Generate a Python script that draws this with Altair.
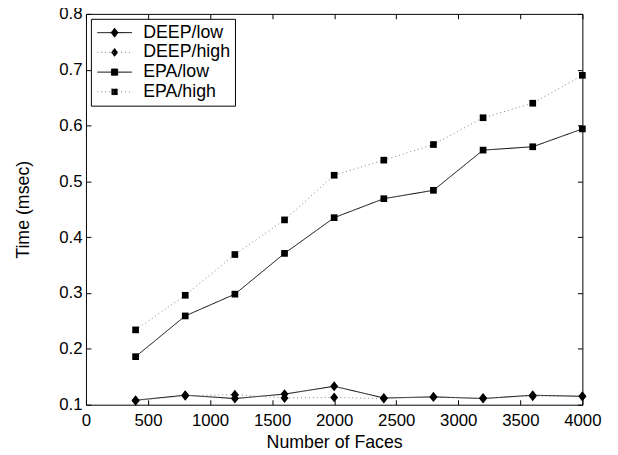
import altair as alt
import pandas as pd

faces = [400, 800, 1200, 1600, 2000, 2400, 2800, 3200, 3600, 4000]
deep_low = [0.108, 0.117, 0.111, 0.119, 0.133, 0.112, 0.114, 0.111, 0.117, 0.115]
deep_high = [0.107, 0.116, 0.118, 0.112, 0.113, 0.111, 0.114, 0.112, 0.115, 0.115]
epa_low = [0.186, 0.259, 0.298, 0.371, 0.435, 0.469, 0.484, 0.556, 0.562, 0.594]
epa_high = [0.234, 0.296, 0.369, 0.431, 0.511, 0.538, 0.566, 0.614, 0.640, 0.690]

series_names = ["DEEP/low", "DEEP/high", "EPA/low", "EPA/high"]
series_values = [deep_low, deep_high, epa_low, epa_high]
x_ticks = [0, 500, 1000, 1500, 2000, 2500, 3000, 3500, 4000]
y_ticks = [0.1, 0.2, 0.3, 0.4, 0.5, 0.6, 0.7, 0.8]

rows = []
for name, vals in zip(series_names, series_values):
    for f, v in zip(faces, vals):
        rows.append({"faces": f, "time": v, "series": name})
df = pd.DataFrame(rows)

FONT = "Liberation Sans"
W, H = 503, 396

xs = alt.Scale(domain=[0, 4000], nice=False, zero=False)
ys = alt.Scale(domain=[0.1, 0.8], nice=False, zero=False)

stroke_range = ["black", "#808080", "black", "#808080"]
dash_range = [[1, 0], [1, 3], [1, 0], [1, 3]]
diamond = "M0,-1L0.8,0L0,1L-0.8,0Z"
marker_range = [diamond, diamond, "square", "square"]
legend_paths = [
    "M-1,0H1M0,-0.26L0.2,0L0,0.26L-0.2,0Z",
    "M-1,0H1M0,-0.26L0.2,0L0,0.26L-0.2,0Z",
    "M-1,0H1M-0.18,-0.18H0.18V0.18H-0.18Z",
    "M-1,0H1M-0.18,-0.18H0.18V0.18H-0.18Z",
]

legend_kw = dict(
    title=None, orient="top-left", offset=5, strokeColor="black", fillColor="white",
    padding=4, labelFont=FONT, labelFontSize=18, labelColor="black",
    symbolSize=1225, symbolStrokeWidth=1, symbolFillColor="black",
    symbolOffset=2, labelOffset=11, rowPadding=0, clipHeight=20,
)

base = alt.Chart(df)

lines = base.mark_line(strokeWidth=1).encode(
    x=alt.X("faces:Q", scale=xs,
            axis=alt.Axis(orient="bottom", values=x_ticks, title="Number of Faces",
                          offset=-5, tickSize=5, domain=False, labelPadding=8,
                          labelFlush=False, labelOverlap=False,
                          titlePadding=5, format="d")),
    y=alt.Y("time:Q", scale=ys,
            axis=alt.Axis(orient="left", values=y_ticks, title="Time (msec)",
                          offset=-5, tickSize=5, domain=False, labelPadding=4,
                          labelFlush=False, labelOverlap=False,
                          titlePadding=27, format=".1f")),
    stroke=alt.Stroke("series:N", scale=alt.Scale(domain=series_names, range=stroke_range), legend=None),
    strokeDash=alt.StrokeDash("series:N", scale=alt.Scale(domain=series_names, range=dash_range), legend=None),
)

points = base.mark_point(filled=True, color="black", opacity=1).encode(
    x=alt.X("faces:Q", scale=xs, axis=None),
    y=alt.Y("time:Q", scale=ys, axis=None),
    shape=alt.Shape("series:N", scale=alt.Scale(domain=series_names, range=marker_range), legend=None),
    size=alt.condition("indexof(datum.series, 'DEEP') >= 0", alt.value(100), alt.value(46)),
)

legend_layer = base.transform_filter("false").mark_point(filled=True, fill="black", opacity=1).encode(
    x=alt.X("faces:Q", scale=xs,
            axis=alt.Axis(orient="top", values=x_ticks, labels=False, title=None,
                          offset=-5, tickSize=5, domain=False)),
    y=alt.Y("time:Q", scale=ys,
            axis=alt.Axis(orient="right", values=y_ticks, labels=False, title=None,
                          offset=-5, tickSize=5, domain=False)),
    shape=alt.Shape("series:N", scale=alt.Scale(domain=series_names, range=legend_paths),
                    legend=alt.Legend(**legend_kw)),
    stroke=alt.Stroke("series:N", scale=alt.Scale(domain=series_names, range=stroke_range),
                      legend=alt.Legend(**legend_kw)),
    strokeDash=alt.StrokeDash("series:N", scale=alt.Scale(domain=series_names, range=dash_range),
                              legend=alt.Legend(**legend_kw)),
)

chart = alt.layer(lines, points, legend_layer).resolve_scale(
    shape="independent", stroke="independent", strokeDash="independent"
).resolve_axis(
    x="independent", y="independent"
).properties(
    width=W, height=H,
    background="white",
    autosize=alt.AutoSizeParams(type="none"),
    padding={"left": 79, "top": 3, "right": 28, "bottom": 48},
).configure_view(
    stroke="black", strokeWidth=1
).configure_axis(
    labelFont=FONT, labelFontSize=17, labelColor="black",
    titleFont=FONT, titleFontSize=18, titleColor="black", titleFontWeight="normal",
    tickColor="black", tickWidth=1, grid=False,
)

chart.save("out.html", embed_options={"renderer": "svg", "actions": False})
